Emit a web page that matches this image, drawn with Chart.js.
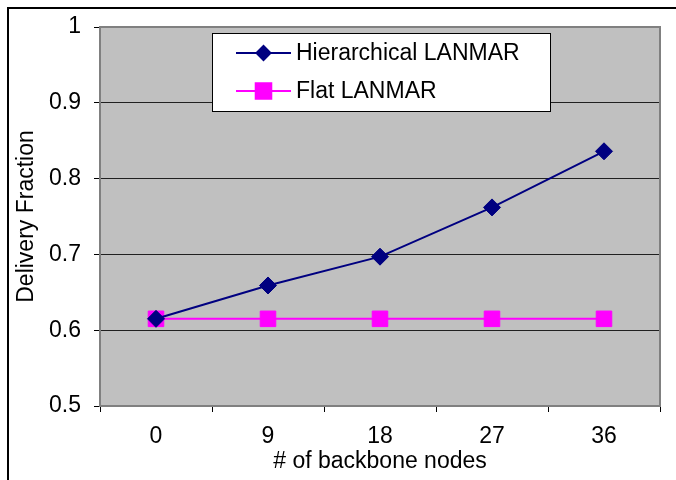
<!DOCTYPE html>
<html>
<head>
<meta charset="utf-8">
<style>
body { margin: 0; background: #fff; }
#chart_container { width: 676px; height: 480px; }
</style>
</head>
<body>
<div id="chart_container">
  <canvas id="myChart" width="676" height="480"></canvas>
</div>

<script src="https://cdn.jsdelivr.net/npm/chart.js"></script>

<script>
// values
const backboneNodes = ['0', '9', '18', '27', '36'];
const hierarchicalLanmar = [0.615, 0.659, 0.697, 0.762, 0.836];
const flatLanmar = [0.615, 0.615, 0.615, 0.615, 0.615];
const yMin = 0.5;
const yMax = 1;
const yStep = 0.1;

const FONT = 'Liberation Sans, Arial, sans-serif';
const FONT_SIZE = 23;
const NAVY = '#000080';
const MAGENTA = '#FF00FF';

// gray plot area, outer frame and plot border (Excel look)
const frame = {
  id: 'frame',
  beforeDraw(chart) {
    const c = chart.ctx, a = chart.chartArea;
    c.save();
    c.fillStyle = '#fff';
    c.fillRect(0, 0, chart.width, chart.height);
    c.strokeStyle = '#000';
    c.lineWidth = 2;
    c.strokeRect(8, 8, chart.width + 20, chart.height + 20);
    c.fillStyle = '#C0C0C0';
    c.fillRect(a.left, a.top, a.right - a.left, a.bottom - a.top);
    c.restore();
  },
  beforeDatasetsDraw(chart) {
    const c = chart.ctx, a = chart.chartArea;
    c.save();
    c.strokeStyle = '#808080';
    c.lineWidth = 2;
    c.strokeRect(a.left, a.top, a.right - a.left, a.bottom - a.top);
    c.restore();
  }
};

// boxed legend inside the plot area, line through marker
const boxLegend = {
  id: 'boxLegend',
  afterDraw(chart) {
    const c = chart.ctx;
    c.save();
    c.fillStyle = '#fff';
    c.fillRect(212.5, 33.5, 338, 78);
    c.strokeStyle = '#000';
    c.lineWidth = 1;
    c.strokeRect(212.5, 33.5, 338, 78);
    const rows = [53, 91];
    const sizes = [7, 11];
    chart.data.datasets.forEach((ds, i) => {
      const y = rows[i];
      c.strokeStyle = ds.borderColor;
      c.lineWidth = 2;
      c.beginPath();
      c.moveTo(236, y);
      c.lineTo(291, y);
      c.stroke();
      c.fillStyle = ds.backgroundColor;
      Chart.helpers.drawPoint(c, {pointStyle: ds.pointStyle, radius: sizes[i], borderWidth: 1}, 263.5, y);
      c.fillStyle = '#000';
      c.font = FONT_SIZE + 'px ' + FONT;
      c.textBaseline = 'middle';
      c.textAlign = 'left';
      c.fillText(ds.label, 296, y + 1);
    });
    c.restore();
  }
};

const ctx = document.getElementById('myChart');

let chart = new Chart(ctx, {
  type: 'line',
  data: {
    labels: backboneNodes,
    datasets: [{
      label: 'Hierarchical LANMAR',
      data: hierarchicalLanmar,
      borderColor: NAVY,
      backgroundColor: NAVY,
      borderWidth: 2,
      pointStyle: 'rectRot',
      pointRadius: 8.5,
      pointBorderWidth: 1,
      tension: 0
    }, {
      label: 'Flat LANMAR',
      data: flatLanmar,
      borderColor: MAGENTA,
      backgroundColor: MAGENTA,
      borderWidth: 2,
      pointStyle: 'rect',
      pointRadius: 11,
      pointBorderWidth: 1,
      tension: 0
    }]
  },
  options: {
    responsive: false,
    animation: false,
    layout: { padding: { left: 0, right: 16, top: 27, bottom: 0 } },
    plugins: {
      legend: { display: false },
      tooltip: { enabled: false }
    },
    scales: {
      x: {
        type: 'category',
        offset: true,
        afterFit: (s) => { s.height = 74; },
        border: { display: false },
        grid: { offset: true, drawOnChartArea: false, drawTicks: true, tickLength: 6, tickColor: '#000', lineWidth: 1 },
        ticks: { color: '#000', font: { family: FONT, size: FONT_SIZE }, padding: 11, maxRotation: 0 },
        title: { display: true, text: '# of backbone nodes', color: '#000', font: { family: FONT, size: FONT_SIZE }, padding: { top: 0, bottom: 5 } }
      },
      y: {
        min: yMin,
        max: yMax,
        afterFit: (s) => { s.width = 100; },
        border: { display: false },
        grid: { color: '#202020', lineWidth: 1, tickLength: 6, tickColor: '#000' },
        ticks: {
          stepSize: yStep,
          color: '#000',
          font: { family: FONT, size: FONT_SIZE },
          padding: 13,
          callback: (v) => Math.round(v * 10) / 10
        },
        title: { display: true, text: 'Delivery Fraction', color: '#000', font: { family: FONT, size: FONT_SIZE }, padding: { top: 13, bottom: 0 } }
      }
    }
  },
  plugins: [frame, boxLegend]
});
</script>
</body>
</html>
